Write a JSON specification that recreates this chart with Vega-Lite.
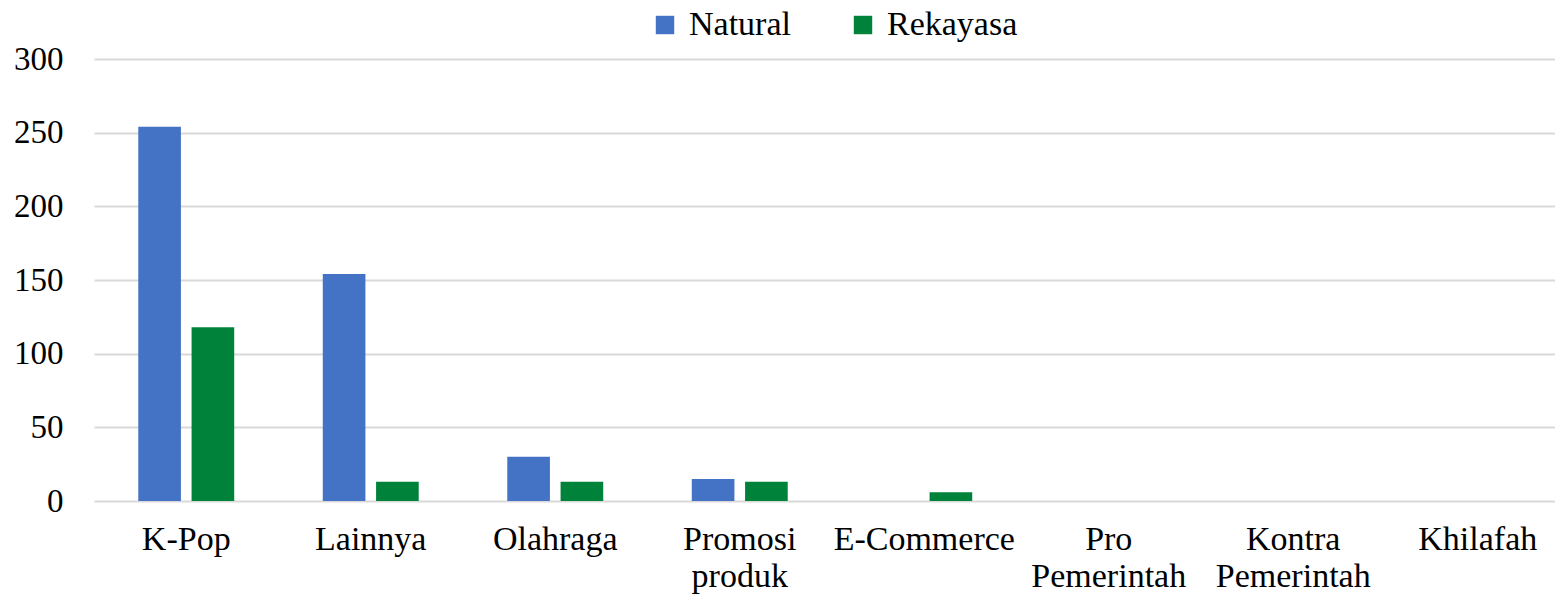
{
  "$schema": "https://vega.github.io/schema/vega-lite/v6.json",
  "autosize": {"type": "none"},
  "padding": {"left": 94, "top": 59, "right": 0, "bottom": 95},
  "width": 1476,
  "height": 442,
  "background": "white",
  "config": {
    "font": "Liberation Serif",
    "view": {"stroke": null}
  },
  "data": {
    "values": [
      {"kategori": "K-Pop", "jenis": "Natural", "jumlah": 254},
      {"kategori": "K-Pop", "jenis": "Rekayasa", "jumlah": 118},
      {"kategori": "Lainnya", "jenis": "Natural", "jumlah": 154},
      {"kategori": "Lainnya", "jenis": "Rekayasa", "jumlah": 13},
      {"kategori": "Olahraga", "jenis": "Natural", "jumlah": 30},
      {"kategori": "Olahraga", "jenis": "Rekayasa", "jumlah": 13},
      {"kategori": "Promosi produk", "jenis": "Natural", "jumlah": 15},
      {"kategori": "Promosi produk", "jenis": "Rekayasa", "jumlah": 13},
      {"kategori": "E-Commerce", "jenis": "Natural", "jumlah": 0},
      {"kategori": "E-Commerce", "jenis": "Rekayasa", "jumlah": 6},
      {"kategori": "Pro Pemerintah", "jenis": "Natural", "jumlah": 0},
      {"kategori": "Pro Pemerintah", "jenis": "Rekayasa", "jumlah": 0},
      {"kategori": "Kontra Pemerintah", "jenis": "Natural", "jumlah": 0},
      {"kategori": "Kontra Pemerintah", "jenis": "Rekayasa", "jumlah": 0},
      {"kategori": "Khilafah", "jenis": "Natural", "jumlah": 0},
      {"kategori": "Khilafah", "jenis": "Rekayasa", "jumlah": 0}
    ]
  },
  "mark": {"type": "bar"},
  "encoding": {
    "x": {
      "field": "kategori",
      "type": "nominal",
      "sort": null,
      "scale": {"paddingInner": 0.48, "paddingOuter": 0.24},
      "axis": {
        "title": null,
        "labelAngle": 0,
        "ticks": false,
        "domain": false,
        "labelFontSize": 34,
        "labelColor": "#000000",
        "labelPadding": 21,
        "labelBaseline": "top",
        "labelLineHeight": 37,
        "labelLimit": 0,
        "labelOverlap": false,
        "labelExpr": "split(datum.label, ' ')"
      }
    },
    "xOffset": {
      "field": "jenis",
      "type": "nominal",
      "scale": {"paddingInner": 0.2, "paddingOuter": 0}
    },
    "y": {
      "field": "jumlah",
      "type": "quantitative",
      "scale": {"domain": [0, 300], "nice": false},
      "axis": {
        "title": null,
        "values": [0, 50, 100, 150, 200, 250, 300],
        "ticks": false,
        "domain": false,
        "labelFontSize": 33,
        "labelColor": "#000000",
        "labelPadding": 31,
        "gridColor": "#d9d9d9",
        "gridWidth": 2
      }
    },
    "color": {
      "field": "jenis",
      "type": "nominal",
      "scale": {"domain": ["Natural", "Rekayasa"], "range": ["#4472C4", "#00823B"]},
      "legend": {
        "title": null,
        "orient": "none",
        "direction": "horizontal",
        "legendX": 554,
        "legendY": -51,
        "symbolType": "square",
        "symbolSize": 340,
        "symbolStrokeWidth": 0,
        "labelFontSize": 34,
        "labelColor": "#000000",
        "labelOffset": 7,
        "columnPadding": 55
      }
    }
  }
}
